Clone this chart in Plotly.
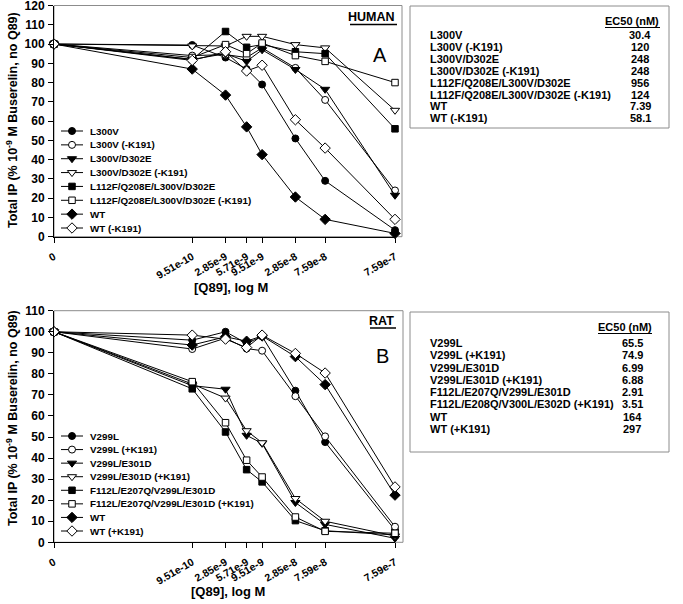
import numpy as np
import plotly.graph_objects as go

W, H = 683, 604
FONT = "Liberation Sans, Arial, sans-serif"

# ---------------- data ----------------
conc = [0, 9.51e-10, 2.85e-9, 5.71e-9, 9.51e-9, 2.85e-8, 7.59e-8, 7.59e-7]
tick_text = ["0", "9.51e-10", "2.85e-9", "5.71e-9", "9.51e-9", "2.85e-8", "7.59e-8", "7.59e-7"]
y_ticks_top = list(range(0, 121, 10))
y_ticks_bot = list(range(0, 111, 10))
ZERO_POS = -11.0  # where the "0" (no Q89) point sits on the log axis

human_names = ["L300V", "L300V (-K191)", "L300V/D302E", "L300V/D302E (-K191)",
               "L112F/Q208E/L300V/D302E", "L112F/Q208E/L300V/D302E (-K191)",
               "WT", "WT (-K191)"]
h_L300V = [100, 99.5, 93, 87, 79, 51, 29, 3.4]
h_L300V_k = [100, 94, 94.5, 93, 98, 87.6, 71, 24]
h_L300V_D302E = [100, 92, 95, 91, 97, 86.8, 76.5, 21.5]
h_L300V_D302E_k = [100, 99, 99, 104, 104, 99.7, 98, 65.6]
h_L112F = [100, 92, 106.5, 98.3, 99.7, 96, 95, 56]
h_L112F_k = [100, 93, 99.7, 95, 100.5, 94, 91, 80]
h_WT = [100, 87, 73.5, 57, 42.6, 20.6, 9, 1.7]
h_WT_k = [100, 91.5, 96, 86, 89, 60.7, 46, 9]
human_values = [h_L300V, h_L300V_k, h_L300V_D302E, h_L300V_D302E_k,
                h_L112F, h_L112F_k, h_WT, h_WT_k]
human_ec50 = ["30.4", "120", "248", "248", "956", "124", "7.39", "58.1"]

rat_names = ["V299L", "V299L (+K191)", "V299L/E301D", "V299L/E301D (+K191)",
             "F112L/E207Q/V299L/E301D", "F112L/E207Q/V299L/E301D (+K191)",
             "WT", "WT (+K191)"]
rat_table_names = ["V299L", "V299L (+K191)", "V299L/E301D", "V299L/E301D (+K191)",
                   "F112L/E207Q/V299L/E301D", "F112L/E208Q/V300L/E302D (+K191)",
                   "WT", "WT (+K191)"]
r_V299L = [100, 96, 100, 94.5, 97.8, 72, 47.6, 5.8]
r_V299L_k = [100, 91.8, 97, 92, 91, 69.4, 50.3, 7.4]
r_V299L_E301D = [100, 74.4, 72.7, 50.8, 47, 18.9, 8.5, 1.9]
r_V299L_E301D_k = [100, 75.2, 68.5, 53, 47.3, 20.8, 10, 3]
r_F112L = [100, 72.9, 52.4, 34.5, 28.7, 10.3, 5.5, 3.5]
r_F112L_k = [100, 76.3, 56.8, 39, 31, 12, 5.2, 4.3]
r_WT = [100, 93.7, 97.6, 95.5, 98, 88.2, 74.9, 22.4]
r_WT_k = [100, 98.4, 96.5, 92.5, 98.4, 89.7, 80.4, 26.3]
rat_values = [r_V299L, r_V299L_k, r_V299L_E301D, r_V299L_E301D_k,
              r_F112L, r_F112L_k, r_WT, r_WT_k]
rat_ec50 = ["65.5", "74.9", "6.99", "6.88", "2.91", "3.51", "164", "297"]

# marker style per series position
symbols = ["circle", "circle", "triangle-down", "triangle-down",
           "square", "square", "diamond", "diamond"]
filled = [True, False, True, False, True, False, True, False]
msize = {"circle": 7, "triangle-down": 8, "square": 6.5, "diamond": 8}

xpos = [ZERO_POS if c == 0 else float(np.log10(c)) for c in conc]


def px(x):
    return x / W


def py(y):
    return 1 - y / H


def b(t):
    return "<b>" + t + "</b>"


fig = go.Figure()


def marker(i):
    s = symbols[i]
    return dict(symbol=s, size=msize[s], color="black" if filled[i] else "white",
                line=dict(color="black", width=1))


for i, (name, vals) in enumerate(zip(human_names, human_values)):
    fig.add_trace(go.Scatter(x=xpos, y=vals, mode="lines+markers", name=name,
                             line=dict(color="black", width=1), marker=marker(i),
                             xaxis="x", yaxis="y", cliponaxis=False, showlegend=False))
for i, (name, vals) in enumerate(zip(rat_names, rat_values)):
    fig.add_trace(go.Scatter(x=xpos, y=vals, mode="lines+markers", name=name,
                             line=dict(color="black", width=1), marker=marker(i),
                             xaxis="x2", yaxis="y2", cliponaxis=False, showlegend=False))

# custom legends (glyph rows) on their own small axes
for names, xa_, ya_ in [(human_names, "x3", "y3"), (rat_names, "x4", "y4")]:
    for i, name in enumerate(names):
        fig.add_trace(go.Scatter(x=[0, 1], y=[i, i], mode="lines",
                                 line=dict(color="black", width=1),
                                 xaxis=xa_, yaxis=ya_, showlegend=False, hoverinfo="skip"))
        fig.add_trace(go.Scatter(x=[0.5], y=[i], mode="markers", marker=marker(i),
                                 xaxis=xa_, yaxis=ya_, showlegend=False, hoverinfo="skip",
                                 cliponaxis=False))
        fig.add_annotation(x=px(88), xref="paper", y=i, yref=ya_, text=b(name),
                           showarrow=False, xanchor="left", yanchor="middle",
                           font=dict(family=FONT, size=9.8, color="black"))

X0, X1 = 54, 395
top_y0, top_y1 = 236.7, 5.5     # pixel of 0 and 120
bot_y0, bot_y1 = 542.3, 310.7   # pixel of 0 and 110

axis_common = dict(showline=True, linecolor="black", linewidth=1, ticks="outside",
                   ticklen=5, tickcolor="black", showgrid=False, zeroline=False,
                   automargin=False, ticklabeloverflow="allow")
xa = dict(axis_common, range=[ZERO_POS, float(np.log10(7.59e-7))], tickmode="array",
          tickvals=xpos, ticktext=[b(t) for t in tick_text], tickangle=-30,
          ticklabelstandoff=4,
          tickfont=dict(family=FONT, size=10.5, color="black"))
ya = dict(axis_common, tickmode="array", ticklabelstandoff=1,
          tickfont=dict(family=FONT, size=12, color="black"))

L3_step = (228 - 131) / 7
L4_step = (531 - 436) / 7
fig.update_layout(
    width=W, height=H, margin=dict(l=0, r=0, t=0, b=0),
    paper_bgcolor="white", plot_bgcolor="white",
    xaxis=dict(xa, domain=[px(X0), px(X1)], anchor="y"),
    yaxis=dict(ya, domain=[py(top_y0), py(top_y1)], range=[0, 120], anchor="x",
               tickvals=y_ticks_top, ticktext=[b(str(v)) for v in y_ticks_top]),
    xaxis2=dict(xa, domain=[px(X0), px(X1)], anchor="y2"),
    yaxis2=dict(ya, domain=[py(bot_y0), py(bot_y1)], range=[0, 110], anchor="x2",
                tickvals=y_ticks_bot, ticktext=[b(str(v)) for v in y_ticks_bot]),
    xaxis3=dict(domain=[px(61), px(83)], range=[0, 1], visible=False, anchor="y3"),
    yaxis3=dict(domain=[py(228 + L3_step / 2), py(131 - L3_step / 2)], range=[7.5, -0.5],
                visible=False, anchor="x3"),
    xaxis4=dict(domain=[px(61), px(83)], range=[0, 1], visible=False, anchor="y4"),
    yaxis4=dict(domain=[py(531 + L4_step / 2), py(436 - L4_step / 2)], range=[7.5, -0.5],
                visible=False, anchor="x4"),
)

gray = "#8c8c8c"


def hline(x0, x1, y, color="black", w=1):
    return dict(type="line", xref="paper", yref="paper", x0=px(x0), x1=px(x1),
                y0=py(y), y1=py(y), line=dict(color=color, width=w))


shapes = [
    # plot-area frames
    dict(type="rect", xref="paper", yref="paper", x0=px(X0), x1=px(402),
         y0=py(top_y0), y1=py(top_y1), line=dict(color=gray, width=1), layer="below"),
    dict(type="rect", xref="paper", yref="paper", x0=px(X0), x1=px(403),
         y0=py(bot_y0), y1=py(bot_y1), line=dict(color=gray, width=1), layer="below"),
    # EC50 boxes
    dict(type="rect", xref="paper", yref="paper", x0=px(410), x1=px(669),
         y0=py(128), y1=py(6), line=dict(color=gray, width=1)),
    dict(type="rect", xref="paper", yref="paper", x0=px(410), x1=px(669),
         y0=py(452), y1=py(312), line=dict(color=gray, width=1)),
    # underlines
    hline(605, 660, 27.5), hline(598, 652, 333.5),
    hline(350, 397, 24.5, w=1.5), hline(370, 396, 328, w=1.5),
]
fig.update_layout(shapes=shapes)

tfont = dict(family=FONT, size=11, color="black")


def ann(x, y, text, font, xanchor="center", yanchor="middle", angle=0):
    fig.add_annotation(x=px(x), y=py(y), xref="paper", yref="paper", text=text,
                       showarrow=False, xanchor=xanchor, yanchor=yanchor,
                       textangle=angle, font=font)


# EC50 tables
for names, vals, hy, hx, ry0, rstep, vx in [
        (human_names, human_ec50, 21, 632, 35, 11.9, 640),
        (rat_table_names, rat_ec50, 327, 625, 343, 12.3, 632)]:
    ann(hx, hy, b("EC50 (nM)"), tfont)
    for i, (n, v) in enumerate(zip(names, vals)):
        ann(428, ry0 + i * rstep, b(n), tfont, xanchor="left")
        ann(vx, ry0 + i * rstep, b(v), tfont)

# axis titles and panel labels
title_font = dict(family=FONT, size=12.5, color="black")
ytitle = b("Total IP (% 10<sup>-9</sup> M Buserelin, no Q89)")
ann(12, 120, ytitle, title_font, angle=-90)
ann(12, 418, ytitle, title_font, angle=-90)
xt_font = dict(family=FONT, size=13, color="black")
ann(231, 287, b("[Q89], log M"), xt_font)
ann(228, 591, b("[Q89], log M"), xt_font)

lab_font = dict(family=FONT, size=12.5, color="black")
ann(397, 17.5, b("HUMAN"), lab_font, xanchor="right")
ann(396, 321, b("RAT"), lab_font, xanchor="right")
big_font = dict(family=FONT, size=20, color="black")
ann(380, 55, "A", big_font)
ann(382, 356, "B", big_font)

# remove the page's default 8px body margin so the figure fills the window exactly
fig.write_html("out.html", config={"displayModeBar": False},
               post_script="document.body.style.margin='0px';")
